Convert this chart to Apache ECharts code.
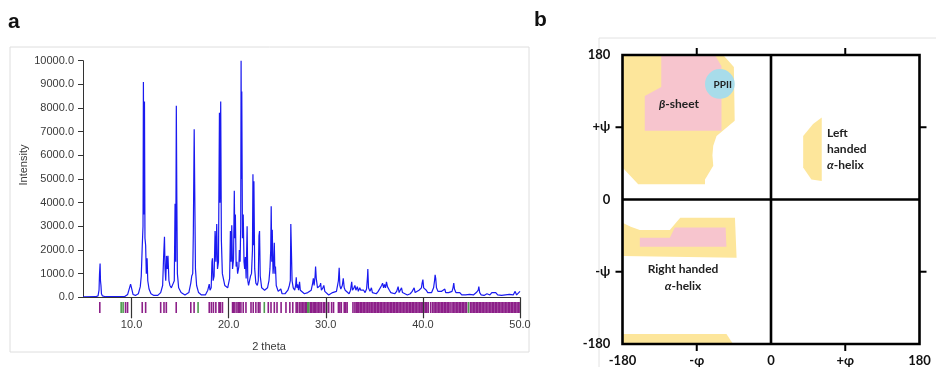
<!DOCTYPE html>
<html><head><meta charset="utf-8">
<script src="https://cdn.jsdelivr.net/npm/echarts@6/dist/echarts.min.js"></script>
<style>html,body{margin:0;padding:0;background:#fff}#c{width:936px;height:367px}</style>
</head><body><div id="c"></div>
<script>
// ---- Panel a: powder XRD pattern (2 theta, intensity) ----
const xrdPattern = [
[5.0,20],[6.3,25],[6.55,60],[6.65,300],[6.7,970],[6.76,1430],[6.8,700],[6.85,500],[6.9,150],[7.0,60],[7.3,25],[9.3,30],[9.5,80],[9.6,120],[9.7,90],[9.8,200],[9.9,560],[9.97,580],[10.05,300],[10.15,120],[10.4,80],[10.7,150],[10.9,450],[11.0,900],[11.1,2150],[11.18,3000],[11.22,9100],[11.27,3500],[11.33,8280],[11.38,2500],[11.45,2200],[11.52,1000],[11.6,1650],[11.67,700],[11.8,350],[12.0,150],[12.3,80],[12.7,80],[13.0,200],[13.2,500],[13.3,1700],[13.39,2560],[13.45,1200],[13.52,700],[13.6,1750],[13.68,1200],[13.75,1750],[13.85,700],[13.95,500],[14.1,400],[14.3,600],[14.4,700],[14.48,3950],[14.55,1500],[14.61,8100],[14.66,4300],[14.72,1000],[14.85,400],[15.1,200],[15.5,100],[15.9,200],[16.1,600],[16.2,900],[16.3,1000],[16.36,2700],[16.45,7100],[16.5,4800],[16.58,1200],[16.7,500],[16.9,200],[17.2,100],[17.6,100],[17.85,300],[18.0,560],[18.08,300],[18.2,400],[18.28,1500],[18.33,1650],[18.4,700],[18.5,900],[18.6,2800],[18.68,1500],[18.77,3100],[18.85,1200],[18.95,1500],[19.05,7800],[19.1,4000],[19.18,8280],[19.25,2400],[19.35,1000],[19.6,500],[19.9,400],[20.1,800],[20.18,2800],[20.25,1500],[20.32,3050],[20.4,1200],[20.5,1600],[20.58,4500],[20.63,2500],[20.69,3500],[20.77,1300],[20.85,1500],[20.92,1000],[21.05,1300],[21.1,2000],[21.18,1500],[21.24,3000],[21.28,10000],[21.32,5000],[21.35,8700],[21.42,2500],[21.5,3500],[21.58,1500],[21.65,1200],[21.72,1700],[21.8,800],[21.9,3000],[21.97,700],[22.05,500],[22.15,700],[22.25,900],[22.35,1000],[22.45,2000],[22.5,5200],[22.55,2200],[22.6,4900],[22.68,1200],[22.8,600],[22.95,500],[23.05,700],[23.12,2600],[23.18,2800],[23.25,900],[23.4,400],[23.7,300],[24.0,400],[24.15,700],[24.25,1200],[24.33,2000],[24.38,3850],[24.44,1500],[24.49,2850],[24.57,1000],[24.65,1500],[24.7,2300],[24.76,1000],[24.82,1300],[24.9,500],[25.1,250],[25.3,300],[25.37,350],[25.5,150],[25.8,150],[26.1,300],[26.25,500],[26.35,700],[26.4,3100],[26.46,3050],[26.53,700],[26.65,400],[26.8,300],[26.9,500],[26.96,850],[27.02,400],[27.1,550],[27.14,600],[27.2,300],[27.3,650],[27.38,300],[27.55,250],[27.8,150],[28.0,100],[28.15,200],[28.3,150],[28.5,300],[28.65,600],[28.72,800],[28.8,500],[28.9,900],[28.95,1300],[29.02,800],[29.15,400],[29.3,350],[29.42,500],[29.47,600],[29.55,300],[29.7,400],[29.8,500],[29.9,250],[30.1,200],[30.3,100],[30.5,150],[30.7,200],[30.9,150],[31.1,250],[31.3,700],[31.38,1250],[31.45,500],[31.55,350],[31.7,500],[31.8,800],[31.9,400],[32.0,300],[32.2,250],[32.4,150],[32.55,300],[32.67,650],[32.75,300],[32.9,400],[33.0,500],[33.1,300],[33.25,450],[33.35,250],[33.5,400],[33.6,300],[33.75,250],[33.9,300],[34.05,200],[34.2,350],[34.3,900],[34.33,1200],[34.4,400],[34.55,250],[34.7,400],[34.8,200],[35.0,200],[35.2,150],[35.4,250],[35.6,300],[35.75,500],[35.85,600],[35.95,400],[36.05,550],[36.15,400],[36.25,650],[36.35,450],[36.45,500],[36.55,300],[36.7,200],[36.9,150],[37.1,150],[37.3,250],[37.45,450],[37.55,200],[37.7,200],[37.8,400],[37.9,200],[38.1,150],[38.4,100],[38.7,150],[38.9,250],[39.1,400],[39.2,200],[39.4,200],[39.6,300],[39.75,350],[39.85,400],[39.92,600],[40.0,750],[40.08,400],[40.2,350],[40.35,300],[40.5,200],[40.7,150],[40.9,200],[41.1,400],[41.2,700],[41.26,950],[41.32,800],[41.4,400],[41.55,250],[41.7,200],[41.9,250],[42.1,200],[42.26,350],[42.35,200],[42.5,250],[42.65,200],[42.8,150],[43.0,250],[43.1,400],[43.18,600],[43.25,350],[43.4,200],[43.6,150],[43.8,200],[44.0,100],[44.2,150],[44.4,100],[44.6,150],[44.8,120],[45.0,100],[45.2,100],[45.5,200],[45.7,300],[45.76,450],[45.85,200],[46.0,100],[46.3,80],[46.6,150],[46.9,100],[47.1,200],[47.3,150],[47.5,200],[47.7,100],[47.9,80],[48.1,80],[48.3,150],[48.5,100],[48.7,80],[48.9,120],[49.1,80],[49.3,100],[49.5,250],[49.65,100],[49.85,150],[50.0,250]
];
const reflectionsPurple = [6.73,9.38,9.59,11.1,11.45,13.0,13.34,13.58,14.6,16.1,16.44,18.0,18.22,18.43,18.68,19.0,19.09,19.15,19.36,20.4,20.5,20.64,20.85,21.0,21.1,21.26,21.5,21.78,22.3,22.53,22.8,23.05,23.22,24.08,24.36,24.7,24.98,25.4,25.9,26.3,26.6,26.95,27.1,27.3,27.45,27.6,27.75,27.9,28.0,28.4,28.55,28.7,28.85,28.95,29.1,29.25,29.4,29.55,29.75,29.9,30.1,30.3,30.6,30.8,31.3,31.45,31.6,31.9,32.05,32.2,32.8,33.0,33.15,33.3,33.4,33.55,33.7,33.85,34.0,34.15,34.3,34.45,34.55,34.7,34.85,35.0,35.15,35.3,35.45,35.6,35.75,35.9,36.05,36.2,36.35,36.5,36.65,36.8,36.95,37.1,37.25,37.4,37.55,37.7,37.85,38.0,38.15,38.3,38.45,38.6,38.75,38.9,39.05,39.2,39.35,39.5,39.65,39.8,39.9,40.0,40.1,40.25,40.4,40.55,40.8,41.0,41.15,41.3,41.45,41.6,41.75,41.9,42.05,42.2,42.35,42.5,42.65,42.8,43.0,43.15,43.3,43.45,43.6,43.75,43.9,44.05,44.2,44.35,44.5,44.9,45.05,45.2,45.35,45.5,45.65,45.8,45.95,46.1,46.25,46.4,46.55,46.7,46.85,47.0,47.15,47.3,47.45,47.6,47.75,47.9,48.05,48.2,48.35,48.5,48.65,48.8,48.95,49.1,49.25,49.4,49.55,49.7,49.85,50.0];
const reflectionsGreen = [8.93,9.13,16.85,23.67,28.15,28.25,44.7];
const xTickValues = [10,20,30,40,50];

// ---- Panel b: Ramachandran regions (phi, psi) ----
const betaAllowed = [[-180,180],[-58,180],[-45,165],[-44,98],[-66,79],[-70,67],[-71,55],[-70,42],[-80,25],[-80,19],[-161,19],[-180,40]];
const betaCore = [[-133,180],[-68,180],[-60,166],[-60,85.5],[-153,85.5],[-153,129],[-133,140]];
const ppiiCenter = [[-62,144]];
const ppiiRadius = 18;
const leftHelixAllowed = [[61.5,102],[61.5,23],[49,25],[39,40],[39,79],[51,94]];
const rightHelixAllowed = [[-180,-29],[-170,-34],[-159,-38],[-122.6,-38],[-116,-30],[-110,-22.7],[-43.7,-22.7],[-41.7,-72.6],[-180,-70.5]];
const rightHelixCore = [[-159,-47.6],[-122.6,-47.6],[-116.5,-35],[-55,-35],[-54,-59],[-159,-59]];
const bottomAllowed = [[-180,-167.5],[-54,-167.5],[-46,-180],[-180,-180]];
const angleLabelValues = [-180, -90, 0, 90, 180];
const frameTicks = [-90, 90];
const phiLabels = {'-180':'-180','-90':'-φ','0':'0','90':'+φ','180':'180'};
const psiLabels = {'-180':'-180','-90':'-ψ','0':'0','90':'+ψ','180':'180'};

const chart = echarts.init(document.getElementById('c'), null, {renderer:'canvas'});
const FA = 'Liberation Sans, Arial, sans-serif';
const FB = 'Lato, Open Sans, sans-serif';

function poly(points, color, xi, yi) {
  return {
    type:'custom', xAxisIndex:xi, yAxisIndex:yi, silent:true, z:2, clip:false,
    data: points,
    renderItem: function(params, api){
      if (params.dataIndex !== 0) return null;
      return {type:'polygon', shape:{points: points.map(p => api.coord(p))}, style:{fill:color}};
    }
  };
}
function marks(list, color) {
  return {
    type:'custom', xAxisIndex:1, yAxisIndex:1, silent:true, z:2, clip:false,
    data: list.map(v => [v]),
    renderItem: function(params, api){
      const x = api.value(0);
      const a = api.coord([x,1]), b = api.coord([x,0]);
      return {type:'rect', shape:{x:a[0]-0.8, y:a[1], width:1.6, height:b[1]-a[1]}, style:{fill:color}};
    }
  };
}

const option = {
  animation:false,
  backgroundColor:'#fff',
  grid:[
    {left:83, top:60.7, width:437, height:236.6},
    {left:83, top:302, width:437, height:11},
    {left:614.25, top:46.97, width:313.5, height:305.06}
  ],
  xAxis:[
    {gridIndex:0, type:'value', min:5, max:50, z:10,
     axisLine:{show:true, onZero:false, lineStyle:{color:'#333', width:1}},
     axisTick:{show:true, customValues:xTickValues, length:21, lineStyle:{color:'#333', width:1.2}},
     axisLabel:{customValues:xTickValues, margin:22, fontFamily:FA, fontSize:11, color:'#3a3a3a', formatter:v=>v.toFixed(1)},
     splitLine:{show:false}},
    {gridIndex:1, type:'value', min:5, max:50, show:false},
    {gridIndex:2, type:'value', min:-190, max:190, position:'bottom',
     axisLine:{show:false, onZero:false}, axisTick:{show:false},
     axisLabel:{customValues:angleLabelValues, margin:2, fontFamily:FB, fontWeight:'bold', fontSize:13, color:'#111', formatter:v=>phiLabels[String(v)]},
     splitLine:{show:false}}
  ],
  yAxis:[
    {gridIndex:0, type:'value', min:0, max:10000, interval:1000,
     axisLine:{show:true, onZero:false, lineStyle:{color:'#333', width:1}},
     axisTick:{show:true, length:5, lineStyle:{color:'#333'}},
     axisLabel:{margin:9, fontFamily:FA, fontSize:11, color:'#3a3a3a', formatter:v=>v.toFixed(1)},
     splitLine:{show:false}},
    {gridIndex:1, type:'value', min:0, max:1, show:false},
    {gridIndex:2, type:'value', min:-190, max:190, position:'left',
     axisLine:{show:false, onZero:false}, axisTick:{show:false},
     axisLabel:{customValues:angleLabelValues, margin:4, fontFamily:FB, fontWeight:'bold', fontSize:13, color:'#111', formatter:v=>psiLabels[String(v)]},
     splitLine:{show:false}}
  ],
  series:[
    {type:'line', xAxisIndex:0, yAxisIndex:0, data:xrdPattern, showSymbol:false, symbol:'none',
     sampling:null, lineStyle:{color:'#1a1af0', width:1.2}, z:3, silent:true},
    marks(reflectionsPurple, '#8c1f88'),
    marks(reflectionsGreen, '#4e9a4e'),
    poly(betaAllowed, '#fde69b', 2, 2),
    poly(leftHelixAllowed, '#fde69b', 2, 2),
    poly(rightHelixAllowed, '#fde69b', 2, 2),
    poly(bottomAllowed, '#fde69b', 2, 2),
    poly(betaCore, '#f7c5ce', 2, 2),
    poly(rightHelixCore, '#f7c5ce', 2, 2),
    {type:'custom', xAxisIndex:2, yAxisIndex:2, silent:true, z:3, clip:false, data:ppiiCenter,
     renderItem:function(params, api){
       const c = api.coord([api.value(0), api.value(1)]);
       const r = api.size([ppiiRadius, 0])[0];
       return {type:'circle', shape:{cx:c[0], cy:c[1], r:r}, style:{fill:'#a8dcea'}};
     }},
    {type:'custom', xAxisIndex:2, yAxisIndex:2, silent:true, z:5, clip:false, data:[[0,0]],
     renderItem:function(params, api){
       const tl = api.coord([-180,180]), br = api.coord([180,-180]), o = api.coord([0,0]);
       const st = {stroke:'#000', lineWidth:2.6, fill:null};
       return {type:'group', children:[
         {type:'rect', shape:{x:tl[0], y:tl[1], width:br[0]-tl[0], height:br[1]-tl[1]}, style:st},
         {type:'line', shape:{x1:o[0], y1:tl[1], x2:o[0], y2:br[1]}, style:st},
         {type:'line', shape:{x1:tl[0], y1:o[1], x2:br[0], y2:o[1]}, style:st}
       ]};
     }}
  ],
  graphic:[
    {id:'boxA', type:'rect', shape:{x:10, y:47, width:519, height:305}, style:{fill:'none', stroke:'#dedede', lineWidth:1}, z:-1},
    {id:'boxB', type:'rect', shape:{x:599, y:38, width:400, height:400}, style:{fill:'none', stroke:'#e2e2e2', lineWidth:1}, z:-1},
    {id:'ta', type:'text', x:8, y:12, style:{text:'a', font:'bold 21px Liberation Sans, Arial', fill:'#111'}},
    {id:'tb', type:'text', x:534, y:10, style:{text:'b', font:'bold 21px Liberation Sans, Arial', fill:'#111'}},
    {id:'t2', type:'text', x:269, y:347, style:{text:'2 theta', font:'11px Liberation Sans, Arial', fill:'#3a3a3a', align:'center', verticalAlign:'middle'}},
    {id:'ti', type:'text', x:24, y:165, rotation:Math.PI/2, style:{text:'Intensity', font:'11px Liberation Sans, Arial', fill:'#3a3a3a', align:'center', verticalAlign:'middle'}},
    {id:'tbeta', type:'text', x:679, y:104, z:20, style:{text:'{i|β}{n|-sheet}', align:'center', verticalAlign:'middle',
      rich:{i:{font:'italic bold 12px Lato, sans-serif', fill:'#222'}, n:{font:'bold 12px Lato, sans-serif', fill:'#222'}}}},
    {id:'tppii', type:'text', x:722.7, y:85, z:20, style:{text:'PPII', font:'bold 10px Lato, sans-serif', fill:'#222', align:'center', verticalAlign:'middle'}},
    {id:'tleft', type:'text', x:827, y:149, z:20, style:{text:'{n|Left}\n{n|handed}\n{i|α}{n|-helix}', align:'left', verticalAlign:'middle', lineHeight:16,
      rich:{i:{font:'italic bold 12px Lato, sans-serif', fill:'#222', lineHeight:16}, n:{font:'bold 12px Lato, sans-serif', fill:'#222', lineHeight:16}}}},
    {id:'tright', type:'text', x:683, y:278, z:20, style:{text:'{n|Right handed}\n{i|α}{n|-helix}', align:'center', verticalAlign:'middle', lineHeight:17,
      rich:{i:{font:'italic bold 12px Lato, sans-serif', fill:'#222', lineHeight:17}, n:{font:'bold 12px Lato, sans-serif', fill:'#222', lineHeight:17}}}}
  ]
};
chart.setOption(option);

// Frame ticks at ±90 on all four sides, positioned through the panel-b scales
const tickGraphics = [];
frameTicks.forEach(function(v, i){
  const top = chart.convertToPixel({gridIndex:2}, [v, 180]);
  const bot = chart.convertToPixel({gridIndex:2}, [v, -180]);
  const lft = chart.convertToPixel({gridIndex:2}, [-180, v]);
  const rgt = chart.convertToPixel({gridIndex:2}, [180, v]);
  tickGraphics.push({id:'tkT'+i, type:'rect', z:30, shape:{x:top[0]-1, y:top[1]-7, width:2, height:7}, style:{fill:'#000'}});
  tickGraphics.push({id:'tkB'+i, type:'rect', z:30, shape:{x:bot[0]-1, y:bot[1], width:2, height:7}, style:{fill:'#000'}});
  tickGraphics.push({id:'tkL'+i, type:'rect', z:30, shape:{x:lft[0]-7, y:lft[1]-1, width:7, height:2}, style:{fill:'#000'}});
  tickGraphics.push({id:'tkR'+i, type:'rect', z:30, shape:{x:rgt[0], y:rgt[1]-1, width:7, height:2}, style:{fill:'#000'}});
});
chart.setOption({graphic: tickGraphics});
</script>
</body></html>
